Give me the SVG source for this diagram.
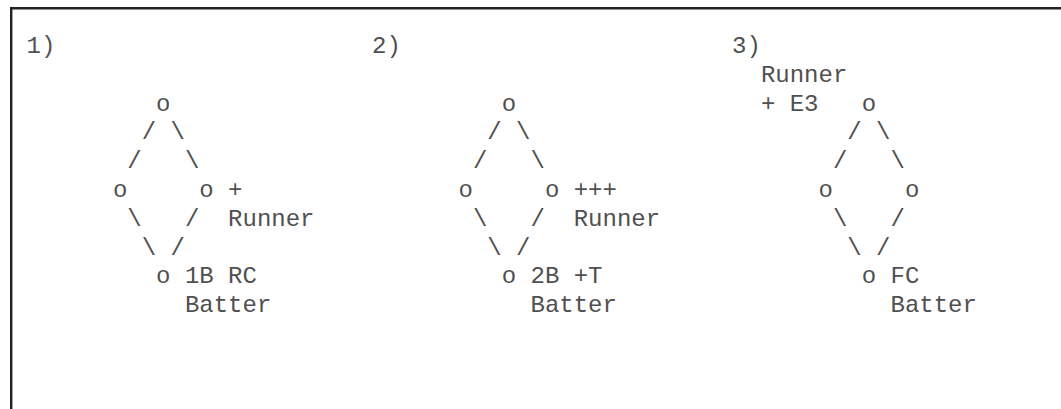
<svg xmlns="http://www.w3.org/2000/svg" width="1061" height="409" viewBox="0 0 1061 409">
<style>
text{font-family:"Liberation Mono","Courier New",monospace;font-size:24px;fill:#505050;white-space:pre}
.frame{fill:none;stroke:#222;stroke-width:2.4}
</style>
<rect width="1061" height="409" fill="#fff"/>
<path class="frame" d="M11.2 409V8.2H1061"/>
<g id="play-1">
<text x="26.5" y="53">1)</text>
<g id="p1-second"><text x="156.1" y="110.6">o</text></g>
<g id="p1-third"><text x="112.9" y="197">o</text></g>
<g id="p1-first"><text x="199.3" y="197">o</text><text x="228.1" y="197">+</text><text x="228.1" y="225.8">Runner</text></g>
<g id="p1-home"><text x="156.1" y="283.4">o</text><text x="184.9" y="283.4">1B RC</text><text x="184.9" y="312.2">Batter</text></g>
</g>
<g id="play-2">
<text x="372.1" y="53">2)</text>
<g id="p2-second"><text x="501.7" y="110.6">o</text></g>
<g id="p2-third"><text x="458.5" y="197">o</text></g>
<g id="p2-first"><text x="544.9" y="197">o</text><text x="573.7" y="197">+++</text><text x="573.7" y="225.8">Runner</text></g>
<g id="p2-home"><text x="501.7" y="283.4">o</text><text x="530.5" y="283.4">2B +T</text><text x="530.5" y="312.2">Batter</text></g>
</g>
<g id="play-3">
<text x="732.1" y="53">3)</text>
<g id="p3-second"><text x="760.9" y="81.8">Runner</text><text x="760.9" y="110.6">+ E3</text><text x="861.7" y="110.6">o</text></g>
<g id="p3-third"><text x="818.5" y="197">o</text></g>
<g id="p3-first"><text x="904.9" y="197">o</text></g>
<g id="p3-home"><text x="861.7" y="283.4">o</text><text x="890.5" y="283.4">FC</text><text x="890.5" y="312.2">Batter</text></g>
</g>
<g id="connectors">
<text x="141.7" y="139.4">/</text><text x="170.5" y="139.4">\</text>
<text x="127.3" y="168.2">/</text><text x="184.9" y="168.2">\</text>
<text x="127.3" y="225.8">\</text><text x="184.9" y="225.8">/</text>
<text x="141.7" y="254.6">\</text><text x="170.5" y="254.6">/</text>
<text x="487.3" y="139.4">/</text><text x="516.1" y="139.4">\</text>
<text x="472.9" y="168.2">/</text><text x="530.5" y="168.2">\</text>
<text x="472.9" y="225.8">\</text><text x="530.5" y="225.8">/</text>
<text x="487.3" y="254.6">\</text><text x="516.1" y="254.6">/</text>
<text x="847.3" y="139.4">/</text><text x="876.1" y="139.4">\</text>
<text x="832.9" y="168.2">/</text><text x="890.5" y="168.2">\</text>
<text x="832.9" y="225.8">\</text><text x="890.5" y="225.8">/</text>
<text x="847.3" y="254.6">\</text><text x="876.1" y="254.6">/</text>
</g>
</svg>
